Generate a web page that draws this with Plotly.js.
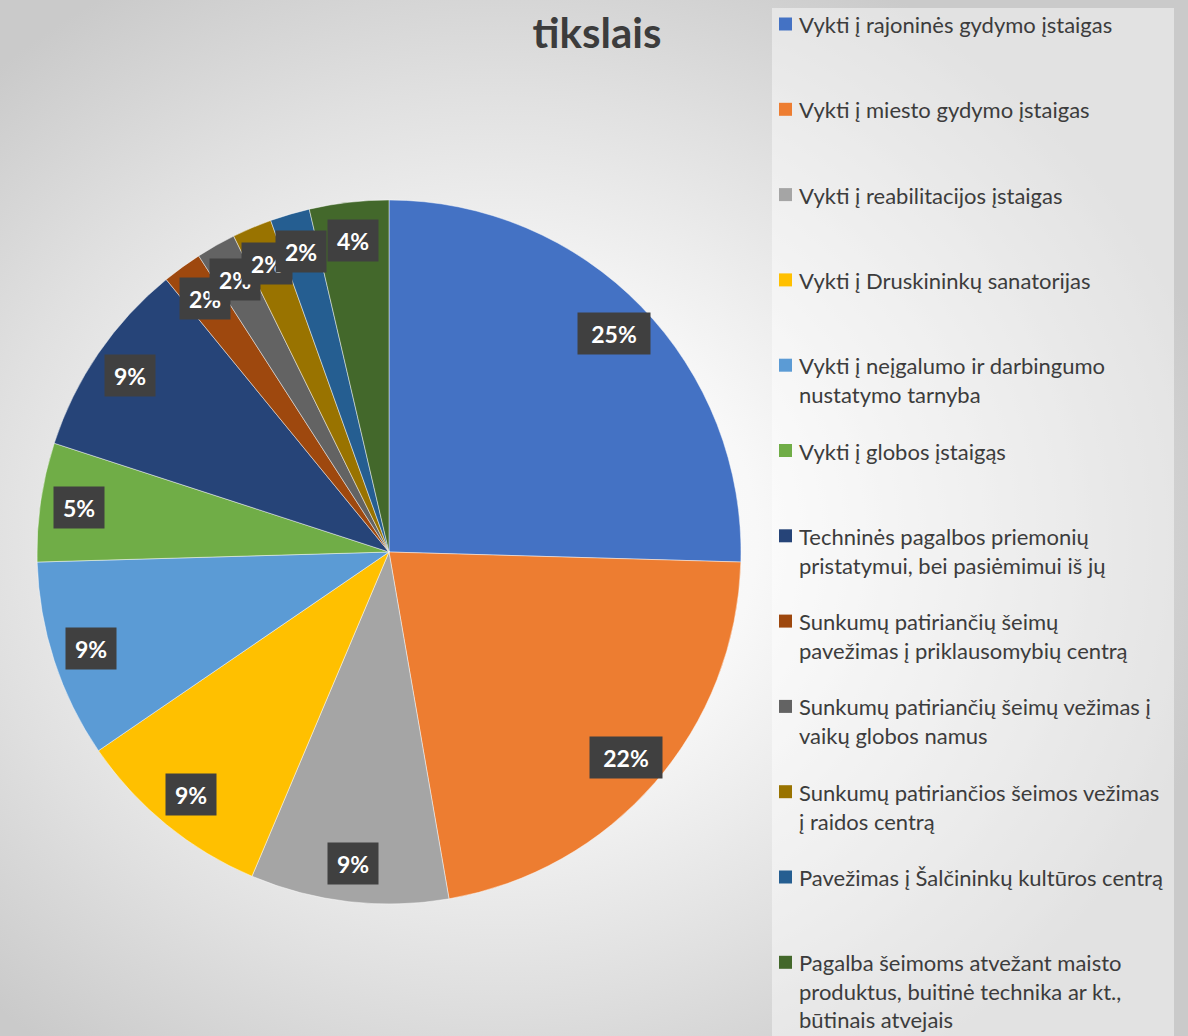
<!DOCTYPE html>
<html><head><meta charset="utf-8">
<script src="https://cdn.plot.ly/plotly-3.0.1.min.js"></script>
<style>
html,body{margin:0;padding:0;}
body{width:1188px;height:1036px;overflow:hidden;
 background:radial-gradient(ellipse 62% 62% at 42% 52%, #ffffff 0%, #f8f8f8 35%, #e0e0e0 70%, #cacaca 100%);}
#chart{width:1188px;height:1036px;}
</style></head><body><div id="chart"></div>
<script>
const categories = [
  'Vykti į rajoninės gydymo įstaigas',
  'Vykti į miesto gydymo įstaigas',
  'Vykti į reabilitacijos įstaigas',
  'Vykti į Druskininkų sanatorijas',
  'Vykti į neįgalumo ir darbingumo<br>nustatymo tarnyba',
  'Vykti į globos įstaigąs',
  'Techninės pagalbos priemonių<br>pristatymui, bei pasiėmimui iš jų',
  'Sunkumų patiriančių šeimų<br>pavežimas į priklausomybių centrą',
  'Sunkumų patiriančių šeimų vežimas į<br>vaikų globos namus',
  'Sunkumų patiriančios šeimos vežimas<br>į raidos centrą',
  'Pavežimas į Šalčininkų kultūros centrą',
  'Pagalba šeimoms atvežant maisto<br>produktus, buitinė technika ar kt.,<br>būtinais atvejais'
];
const counts = [14, 12, 5, 5, 5, 3, 5, 1, 1, 1, 1, 2];
const colors = ['#4472C4','#ED7D31','#A5A5A5','#FFC000','#5B9BD5','#70AD47',
                '#264478','#9E480E','#636363','#997300','#255E91','#43682B'];
const chartTitle = 'tikslais';

const W = 1188, H = 1036;
const dom = {x:[37/W, 741/W], y:[1-904/H, 1-200/H]};
const cx = (dom.x[0]+dom.x[1])/2*W;
const cy = (1-(dom.y[0]+dom.y[1])/2)*H;
const R = (dom.x[1]-dom.x[0])*W/2;
const total = counts.reduce((a,b)=>a+b,0);

const annotations = [];
const shapes = [];

// legend background
shapes.push({type:'rect', xref:'paper', yref:'paper', x0:772/W, x1:1174/W, y0:0, y1:1-8/H,
  fillcolor:'rgba(255,255,255,0.45)', line:{width:0}, layer:'below'});

// percentage labels (inside end)
let cum = 0;
counts.forEach((v,i)=>{
  const mid = (cum + v/2)/total*2*Math.PI;
  cum += v;
  const r = R*0.89;
  const px = cx + r*Math.sin(mid), py = cy - r*Math.cos(mid);
  const txt = Math.round(v/total*100) + '%';
  annotations.push({xref:'paper', yref:'paper', x:px/W, y:1-py/H, xanchor:'center', yanchor:'middle',
    text:txt, showarrow:false, bgcolor:'#404040', borderpad:1,
    width: txt.length>2 ? 70 : 48, height:39,
    font:{family:'Lato, Carlito, sans-serif', size:23, color:'#ffffff', weight:700}});
});

// legend
categories.forEach((c,i)=>{
  const yc = 24 + 85.3*i;
  shapes.push({type:'rect', xref:'paper', yref:'paper', x0:779/W, x1:792/W,
    y0:1-(yc+6.5)/H, y1:1-(yc-6.5)/H, fillcolor:colors[i], line:{width:0}});
  annotations.push({xref:'paper', yref:'paper', x:798/W, y:1-(yc-14)/H, xanchor:'left', yanchor:'top',
    align:'left', text:c, showarrow:false, borderpad:0,
    font:{family:'Lato, Carlito, sans-serif', size:22, color:'#3c3c3c'}});
});

const data = [{
  type:'pie', labels:categories, values:counts, sort:false, direction:'clockwise', rotation:0,
  marker:{colors:colors, line:{color:'rgba(255,255,255,0.45)', width:1}},
  textinfo:'none', hoverinfo:'label+percent', domain:dom, showlegend:false
}];

const layout = {
  width:W, height:H, margin:{l:0,r:0,t:0,b:0},
  paper_bgcolor:'rgba(0,0,0,0)', plot_bgcolor:'rgba(0,0,0,0)',
  showlegend:false,
  title:{text:chartTitle, x:597/W, xanchor:'center', xref:'paper', y:1-33/H, yanchor:'middle', yref:'container',
    font:{family:'Lato, Carlito, sans-serif', size:42, color:'#3c3c3c', weight:700}},
  annotations:annotations, shapes:shapes
};
Plotly.newPlot('chart', data, layout, {displayModeBar:false, staticPlot:true});
</script></body></html>
